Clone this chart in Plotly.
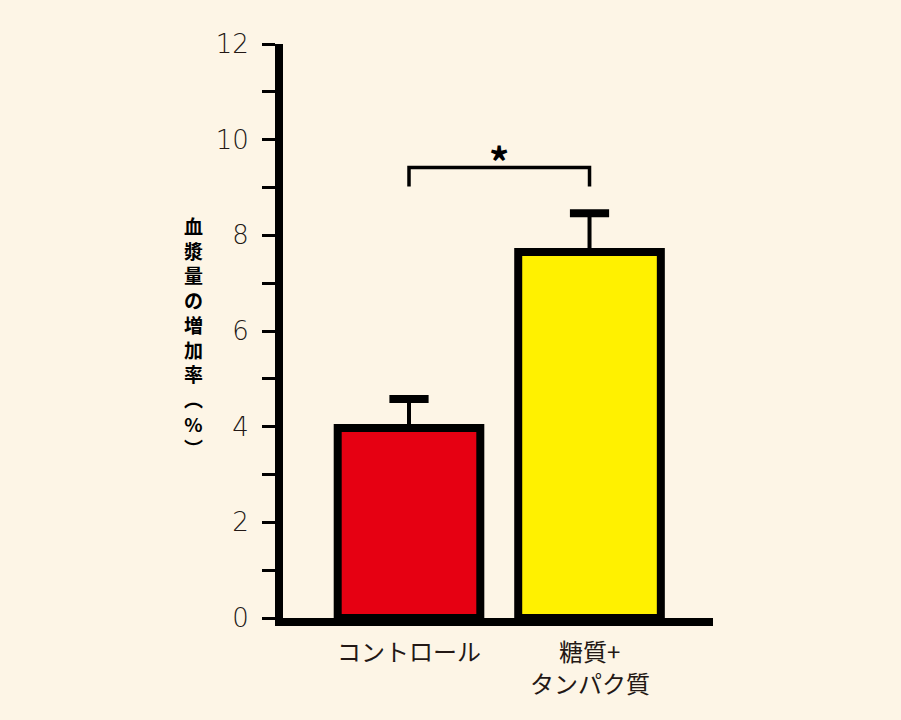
import plotly.graph_objects as go

# data
label_lines = [["コントロール"], ["糖質+", "タンパク質"]]
increase = [3.97, 7.65]   # 血漿量の増加率 (%)
sem = [0.61, 0.81]
bar_colors = ["#e60012", "#fff100"]

y_ticks = list(range(0, 13))
y_labels = [str(v) if v % 2 == 0 else "" for v in y_ticks]

# significance bracket between the two groups
bracket_x = [0, 0, 1, 1]
bracket_y = [9.02, 9.42, 9.42, 9.02]

title_chars = ["血", "漿", "量", "の", "増", "加", "率", "︵", "%", "︶"]

bg = "#fdf5e6"
ink = "#231815"
jp = "Noto Sans CJK JP"

# plot area in pixels
top, bottom = 44, 618
left, right = 283, 713

fig = go.Figure()

fig.add_trace(go.Bar(
    x=[0, 1],
    y=increase,
    width=0.79,
    marker=dict(color=bar_colors, line=dict(color="black", width=8)),
    error_y=dict(type="data", array=sem, arrayminus=[0, 0], symmetric=False,
                 color="black", thickness=4, width=0),
    showlegend=False,
))

# thick caps of the error bars
fig.add_trace(go.Scatter(
    x=[0, 1],
    y=[v + e for v, e in zip(increase, sem)],
    mode="markers",
    marker=dict(symbol="line-ew", size=28, line=dict(color="black", width=8)),
    showlegend=False,
    cliponaxis=False,
))

fig.add_trace(go.Scatter(
    x=bracket_x, y=bracket_y, mode="lines",
    line=dict(color="black", width=3.5),
    showlegend=False,
))

fig.add_annotation(x=0.5, xref="x", y=(bottom - 149) / (bottom - top), yref="paper",
                   text="<b>*</b>", showarrow=False, yanchor="middle", yshift=-12,
                   font=dict(family=jp, size=40, color="black"))

# vertical (stacked) y-axis title
fig.add_annotation(xref="paper", yref="paper",
                   x=(193 - left) / (right - left), y=(bottom - 336) / (bottom - top),
                   text="<b>" + "<br>".join(title_chars) + "</b>", showarrow=False,
                   xanchor="center", yanchor="middle", align="center",
                   font=dict(family=jp, size=19, color="black"))

# category labels under the bars
for i, lines in enumerate(label_lines):
    for j, line in enumerate(lines):
        fig.add_annotation(x=i, xref="x", y=0, yref="paper",
                           text=line, showarrow=False,
                           xanchor="center", yanchor="middle", yshift=-32 - 32 * j,
                           font=dict(family=jp, size=24, color=ink))

fig.update_layout(
    width=901, height=720,
    paper_bgcolor=bg, plot_bgcolor=bg,
    margin=dict(l=left, r=901 - right, t=top, b=720 - bottom),
    font=dict(family=jp, color=ink),
    xaxis=dict(
        range=[-0.698, 1.684],
        showticklabels=False,
        showgrid=False, zeroline=False,
        showline=True, linecolor="black", linewidth=8,
        ticks="",
    ),
    yaxis=dict(
        range=[0, 12],
        tickvals=y_ticks, ticktext=y_labels,
        showgrid=False, zeroline=False,
        showline=True, linecolor="black", linewidth=8,
        ticks="outside", ticklen=13, tickwidth=2.5, tickcolor="black",
        ticklabelstandoff=8,
        tickfont=dict(family="DejaVu Sans", size=26, color=ink, weight=200),
    ),
)

fig.write_html("out.html", config={"displayModeBar": False},
               post_script="document.body.style.margin='0';")
